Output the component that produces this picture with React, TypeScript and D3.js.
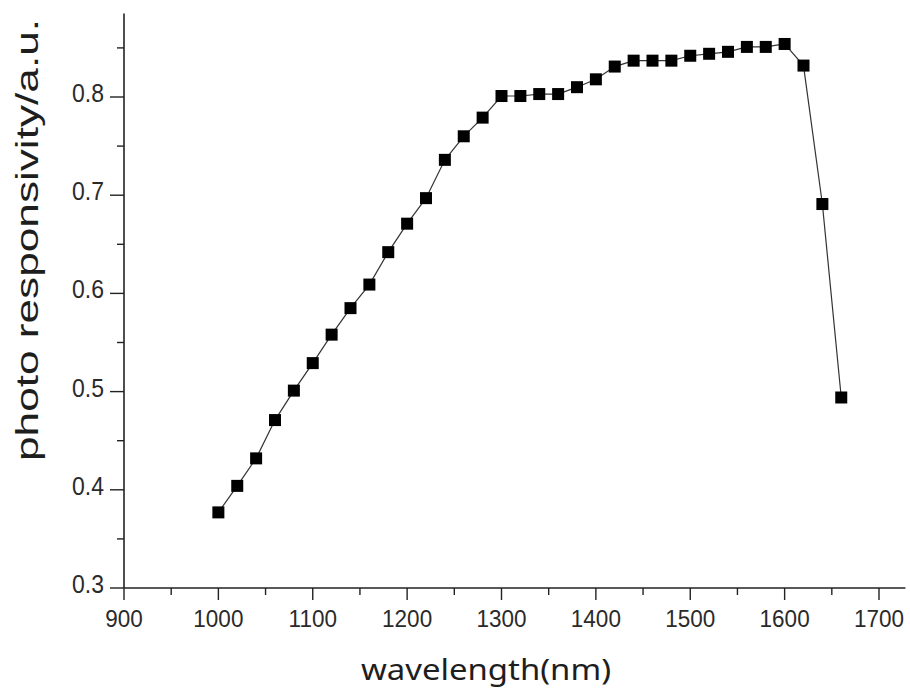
import React, { useEffect, useRef } from "react";
import * as d3 from "d3";

const wavelengths = [1000, 1020, 1040, 1060, 1080, 1100, 1120, 1140, 1160, 1180, 1200, 1220, 1240, 1260, 1280, 1300, 1320, 1340, 1360, 1380, 1400, 1420, 1440, 1460, 1480, 1500, 1520, 1540, 1560, 1580, 1600, 1620, 1640, 1660];
const responsivity = [0.377, 0.404, 0.432, 0.471, 0.501, 0.529, 0.558, 0.585, 0.609, 0.642, 0.671, 0.697, 0.736, 0.760, 0.779, 0.801, 0.801, 0.803, 0.803, 0.810, 0.818, 0.831, 0.837, 0.837, 0.837, 0.842, 0.844, 0.846, 0.851, 0.851, 0.854, 0.832, 0.691, 0.494];
const xTicks = [900, 1000, 1100, 1200, 1300, 1400, 1500, 1600, 1700];
const xMinorTicks = [950, 1050, 1150, 1250, 1350, 1450, 1550, 1650];
const yTicks = [0.3, 0.4, 0.5, 0.6, 0.7, 0.8];
const yMinorTicks = [0.35, 0.45, 0.55, 0.65, 0.75, 0.85];
const xAxisEnd = 1728;
const yAxisEnd = 0.885;
const xTitle = "wavelength(nm)";
const yTitle = "photo responsivity/a.u.";

export default function App() {
  const ref = useRef<SVGSVGElement | null>(null);
  useEffect(() => {
    const svg = d3.select(ref.current);
    svg.selectAll("*").remove();
    const x = d3.scaleLinear().domain([900, 1700]).range([124, 879]);
    const y = d3.scaleLinear().domain([0.3, 0.8]).range([588, 97]);
    const axisColor = "#222";

    // x axis
    const gx = svg.append("g").attr("transform", `translate(0,${y(0.3)})`);
    gx.append("line").attr("x1", x(900)).attr("x2", x(xAxisEnd)).attr("stroke", axisColor).attr("stroke-width", 1.6);
    gx.selectAll("line.maj").data(xTicks).enter().append("line")
      .attr("x1", (d) => x(d)).attr("x2", (d) => x(d)).attr("y1", 0).attr("y2", 12)
      .attr("stroke", axisColor).attr("stroke-width", 1.4);
    gx.selectAll("line.min").data(xMinorTicks).enter().append("line")
      .attr("x1", (d) => x(d)).attr("x2", (d) => x(d)).attr("y1", 0).attr("y2", 7)
      .attr("stroke", axisColor).attr("stroke-width", 1.4);
    gx.selectAll("text").data(xTicks).enter().append("text")
      .attr("transform", (d) => `translate(${x(d)},39) scale(1,1.1)`).attr("text-anchor", "middle")
      .attr("font-family", "Liberation Sans, Arial, sans-serif").attr("font-size", 22.5).attr("fill", "#2a2a2a")
      .text((d) => String(d));

    // y axis
    const gy = svg.append("g").attr("transform", `translate(${x(900)},0)`);
    gy.append("line").attr("y1", y(0.3)).attr("y2", y(yAxisEnd)).attr("stroke", axisColor).attr("stroke-width", 1.6);
    gy.selectAll("line.maj").data(yTicks).enter().append("line")
      .attr("y1", (d) => y(d)).attr("y2", (d) => y(d)).attr("x1", 0).attr("x2", -14)
      .attr("stroke", axisColor).attr("stroke-width", 1.4);
    gy.selectAll("line.min").data(yMinorTicks).enter().append("line")
      .attr("y1", (d) => y(d)).attr("y2", (d) => y(d)).attr("x1", 0).attr("x2", -7)
      .attr("stroke", axisColor).attr("stroke-width", 1.4);
    gy.selectAll("text").data(yTicks).enter().append("text")
      .attr("transform", (d) => `translate(-20,${y(d) + 5}) scale(1,1.1)`).attr("text-anchor", "end")
      .attr("font-family", "Liberation Sans, Arial, sans-serif").attr("font-size", 23).attr("fill", "#2a2a2a")
      .text((d) => d.toFixed(1));

    // titles
    svg.append("text").attr("x", 486).attr("y", 680).attr("text-anchor", "middle")
      .attr("font-family", "Noto Sans, sans-serif").attr("font-size", 29).attr("fill", "#1e1e1e")
      .attr("textLength", 250).attr("lengthAdjust", "spacingAndGlyphs")
      .text(xTitle);
    svg.append("text").attr("transform", `translate(38,240) rotate(-90)`).attr("text-anchor", "middle")
      .attr("font-family", "Liberation Sans, Arial, sans-serif").attr("font-size", 32).attr("fill", "#1e1e1e")
      .attr("textLength", 442).attr("lengthAdjust", "spacingAndGlyphs")
      .text(yTitle);

    // line
    const data = wavelengths.map((w, i) => [w, responsivity[i]] as [number, number]);
    const line = d3.line<[number, number]>().x((d) => x(d[0])).y((d) => y(d[1]));
    svg.append("path").datum(data).attr("d", line).attr("fill", "none").attr("stroke", "#333").attr("stroke-width", 1.2);

    // markers
    const s = 12;
    svg.selectAll("rect.pt").data(data).enter().append("rect")
      .attr("x", (d) => x(d[0]) - s / 2).attr("y", (d) => y(d[1]) - s / 2)
      .attr("width", s).attr("height", s).attr("fill", "#000");
  }, []);
  return (
    <svg ref={ref} width={910} height={690} style={{ position: "absolute", left: 0, top: 0, background: "#fff" }} />
  );
}
